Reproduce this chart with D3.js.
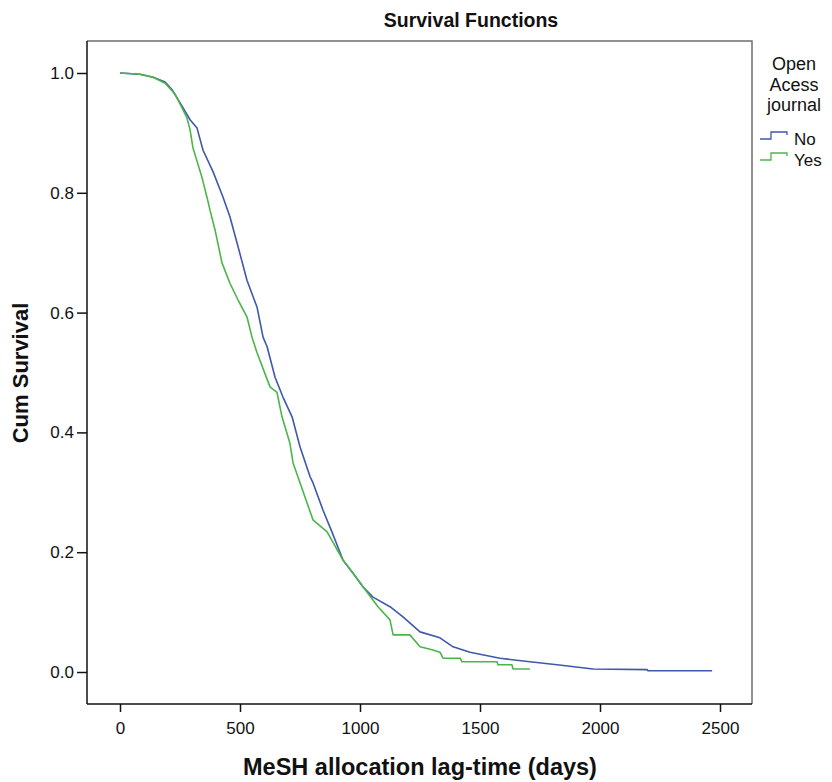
<!DOCTYPE html>
<html lang="en">
<head>
<meta charset="utf-8">
<title>Survival Functions</title>
<script src="https://d3js.org/d3.v7.min.js"></script>
<style>
  body { margin: 0; background: #fff; }
  svg text { font-family: "Liberation Sans", Arial, sans-serif; fill: #111; }
</style>
</head>
<body>
<div id="chart"></div>
<script>
// Kaplan-Meier estimates: [days, cumulative survival]
var groups = ['No', 'Yes'];
var colors = ['#3e58ac', '#4cb54a'];

var noCurve = [
  [0, 1.0], [83, 0.998], [138, 0.993], [188, 0.985], [217, 0.972], [258, 0.945],
  [292, 0.922], [321, 0.908], [346, 0.871], [388, 0.835], [429, 0.793], [458, 0.760],
  [492, 0.710], [529, 0.654], [571, 0.609], [596, 0.559], [613, 0.543], [646, 0.492],
  [679, 0.459], [717, 0.426], [750, 0.376], [792, 0.326], [804, 0.316], [846, 0.270],
  [883, 0.234], [929, 0.187], [971, 0.165], [1013, 0.142], [1054, 0.125], [1125, 0.109],
  [1179, 0.092], [1250, 0.067], [1333, 0.057], [1388, 0.042], [1458, 0.033], [1583, 0.023],
  [1708, 0.017], [1821, 0.012], [1971, 0.005], [2196, 0.004], [2200, 0.002], [2467, 0.002]
];

var yesCurve = [
  [0, 1.0], [83, 0.998], [138, 0.993], [188, 0.983], [229, 0.965], [258, 0.942],
  [279, 0.925], [292, 0.905], [304, 0.875], [342, 0.825], [367, 0.785], [375, 0.771],
  [396, 0.738], [425, 0.683], [458, 0.649], [492, 0.621], [529, 0.593], [550, 0.559],
  [571, 0.533], [625, 0.476], [654, 0.467], [675, 0.426], [708, 0.382], [721, 0.349],
  [750, 0.316], [804, 0.254], [863, 0.234], [929, 0.187], [971, 0.165], [1013, 0.142],
  [1075, 0.109], [1125, 0.087], [1138, 0.062], [1208, 0.062], [1250, 0.042], [1300, 0.037],
  [1333, 0.033], [1346, 0.023], [1417, 0.023], [1425, 0.017], [1571, 0.017], [1575, 0.012],
  [1633, 0.012], [1638, 0.005], [1708, 0.005]
];

var xTicks = [0, 500, 1000, 1500, 2000, 2500];
var yTicks = [0.0, 0.2, 0.4, 0.6, 0.8, 1.0];
var legendTitle = ['Open', 'Acess', 'journal'];

var width = 832, height = 782;

var svg = d3.select('#chart').append('svg')
  .attr('width', width)
  .attr('height', height);

// frame of the plot area
var frame = { left: 87, right: 752, top: 41, bottom: 704 };

var x = d3.scaleLinear().domain([0, 2500]).range([120, 720]);
var y = d3.scaleLinear().domain([0, 1]).range([672, 73]);

// top + right border are grey, axes are black
svg.append('path')
  .attr('d', 'M' + frame.left + ',' + frame.top + 'H' + frame.right + 'V' + frame.bottom)
  .attr('fill', 'none')
  .attr('stroke', '#6e6e6e')
  .attr('stroke-width', 1.5);

var xAxis = svg.append('g')
  .attr('transform', 'translate(0,' + frame.bottom + ')')
  .call(d3.axisBottom(x).tickValues(xTicks).tickSize(8).tickPadding(10).tickFormat(d3.format('d')));
xAxis.select('.domain').attr('d', 'M' + frame.left + ',0H' + frame.right);

var yAxis = svg.append('g')
  .attr('transform', 'translate(' + frame.left + ',0)')
  .call(d3.axisLeft(y).tickValues(yTicks).tickSize(10).tickPadding(3).tickFormat(d3.format('.1f')));
yAxis.select('.domain').attr('d', 'M0,' + frame.top + 'V' + frame.bottom);

svg.selectAll('.domain, .tick line').attr('stroke', '#111').attr('stroke-width', 1.5);
svg.selectAll('.tick text').style('font-size', '17px').attr('fill', '#222');

// survival curves
var line = d3.line()
  .x(function(d) { return x(d[0]); })
  .y(function(d) { return y(d[1]); });

[noCurve, yesCurve].forEach(function(curve, i) {
  svg.append('path')
    .datum(curve)
    .attr('d', line)
    .attr('fill', 'none')
    .attr('stroke', colors[i])
    .attr('stroke-width', 1.6)
    .attr('stroke-linejoin', 'round');
});

// titles
svg.append('text')
  .attr('x', 471).attr('y', 27)
  .attr('text-anchor', 'middle')
  .style('font-size', '19.5px').style('font-weight', 'bold')
  .text('Survival Functions');

svg.append('text')
  .attr('x', 420).attr('y', 775)
  .attr('text-anchor', 'middle')
  .style('font-size', '23.5px').style('font-weight', 'bold')
  .text('MeSH allocation lag-time (days)');

svg.append('text')
  .attr('transform', 'translate(28,373) rotate(-90)')
  .attr('text-anchor', 'middle')
  .style('font-size', '22px').style('font-weight', 'bold')
  .text('Cum Survival');

// legend
svg.selectAll('.legend-title')
  .data(legendTitle)
  .enter().append('text')
  .attr('class', 'legend-title')
  .attr('x', 794)
  .attr('y', function(d, i) { return 70 + i * 20.5; })
  .attr('text-anchor', 'middle')
  .style('font-size', '18px')
  .text(function(d) { return d; });

var legend = svg.selectAll('.legend-item')
  .data(groups)
  .enter().append('g')
  .attr('class', 'legend-item')
  .attr('transform', function(d, i) { return 'translate(760,' + (139 + i * 21) + ')'; });

legend.append('path')
  .attr('d', 'M0,0H11V-7H27V-4')
  .attr('fill', 'none')
  .attr('stroke', function(d, i) { return colors[i]; })
  .attr('stroke-width', 1.3);

legend.append('text')
  .attr('x', 34).attr('y', 6)
  .style('font-size', '17px')
  .text(function(d) { return d; });
</script>
</body>
</html>
